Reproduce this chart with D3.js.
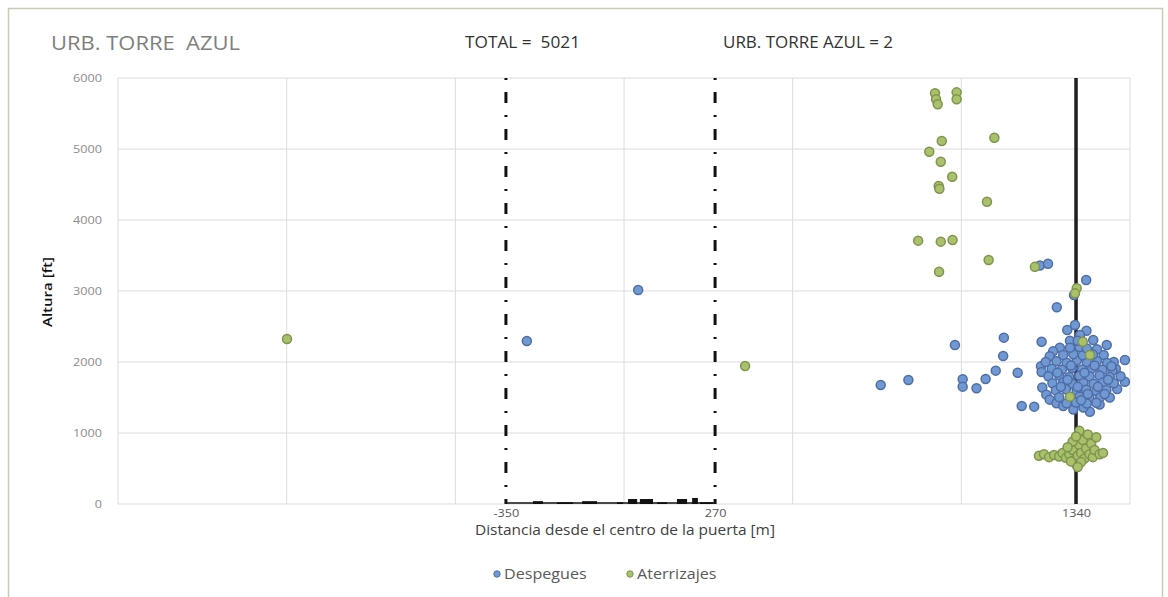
<!DOCTYPE html>
<html><head><meta charset="utf-8">
<script src="https://cdn.jsdelivr.net/npm/d3@7"></script>
<style>body{margin:0;background:#fff;} svg{display:block;font-family:'Open Sans',sans-serif;} text{white-space:pre;}</style>
</head><body><svg id="c" width="1168" height="597"></svg>
<script>
// ---- data ----
const despegues = [
  [-288,2296],[42,3014],[761,1676],[843,1746],[981,2239],[1004,1756],[1004,1653],[1045,1630],
  [1072,1761],[1102,1878],[1124,2085],[1126,2343],[1167,1849],[1179,1380],[1216,1371],
  [1233,3360],[1257,3385],[1283,2770],[1334,2944],[1370,3155],
  [1238,2286],[1314,2451],[1337,2521],[1371,2441],[1391,2310],[1431,2239],[1485,2028],[1485,1723],
  [1381,1300],[1236,1940],[1238,1860],[1240,1640],[1252,1540],[1262,1470],[1282,1420],[1302,1380],
  [1332,1330],[1362,1360],[1410,1400],[1440,1500],[1462,1620],[1472,1800],[1458,1905],[1452,2000],
  [1422,2100],[1402,2180],[1352,2380],[1322,2300],[1292,2200],[1272,2150],[1262,2080],[1250,2000],
  [1282,2010],[1312,1990],[1342,2020],[1372,1995],[1402,2015],[1432,1985],
  [1268,1905],[1298,1890],[1328,1915],[1358,1895],[1388,1910],[1418,1890],[1448,1880],
  [1258,1800],[1290,1810],[1320,1790],[1350,1805],[1380,1795],[1410,1810],[1440,1790],
  [1270,1700],[1302,1715],[1330,1690],[1362,1705],[1392,1695],[1420,1710],[1452,1700],
  [1280,1600],[1310,1615],[1342,1595],[1370,1610],[1400,1590],[1430,1605],
  [1290,1505],[1322,1495],[1350,1510],[1380,1490],[1412,1505],
  [1312,1420],[1340,1430],[1372,1415],[1400,1425],
  [1302,2100],[1332,2110],[1360,2095],[1390,2105],
  [1322,2200],[1350,2210],[1372,2190],[1345,2300],
  [1285,1850],[1315,1750],[1345,1650],[1375,1550],[1405,1650],[1435,1750],[1365,1850],[1395,1950],
  [1325,1950],[1295,1650],[1355,1460],[1425,1550],[1445,1940]
];
const aterrizajes = [
  [-999,2324],[359,1944],[922,5785],[925,5700],[930,5630],[986,5798],[986,5700],[942,5113],
  [1098,5159],[905,4962],[939,4821],[973,4610],[933,4479],[935,4440],[1076,4258],[872,3709],
  [939,3695],[974,3718],[1081,3437],[934,3272],[1218,3340],[1342,3038],[1337,2967],
  [1360,2286],[1381,2099],[1322,1511],
  [1230,680],[1245,700],[1260,660],[1275,690],[1290,670],[1300,720],[1310,650],[1320,700],
  [1330,760],[1335,620],[1340,560],[1345,680],[1350,830],[1355,720],[1360,900],[1365,640],
  [1370,780],[1375,980],[1380,700],[1385,850],[1390,660],[1395,760],[1400,940],[1410,700],
  [1420,720],[1330,880],[1315,800],[1350,1030],[1340,950],[1325,600],[1355,590],[1345,520]
];
const gateLines = [-350, 270];
const refLine = [1340];
const xTickValues = [-350, 270, 1340];
const yTickValues = [0, 1000, 2000, 3000, 4000, 5000, 6000];
const xGridValues = [-1500, -1000, -500, 0, 500, 1000, 1500];
const bldStart  = [-270, -199, -124, -21, 12, 47, 98, 157, 202, 225];
const bldEnd    = [-240, -151, -80, -3, 39, 86, 128, 187, 219, 264];
const bldHeight = [40, 25, 40, 25, 70, 70, 25, 70, 85, 25];
const seriesNames = ["Despegues", "Aterrizajes"];

// ---- drawing ----
const svg = d3.select("#c");
const L = 118, R = 1130, T = 78, B = 504;
const x = d3.scaleLinear().domain([-1500, 1500]).range([L, R]);
const y = d3.scaleLinear().domain([0, 6000]).range([B, T]);
const FONT = "'Open Sans',sans-serif";
function stretch(sel, f) {
  sel.each(function () {
    const w = this.getComputedTextLength();
    d3.select(this).attr("textLength", w * f).attr("lengthAdjust", "spacingAndGlyphs");
  });
}

svg.append("rect").attr("x", 8.5).attr("y", 8.5).attr("width", 1154).attr("height", 600)
  .attr("fill", "#fff").attr("stroke", "#c9ccb4").attr("stroke-width", 1.5);

// grid
svg.append("g").selectAll("line").data(yTickValues).join("line")
  .attr("x1", L).attr("x2", R).attr("y1", d => y(d)).attr("y2", d => y(d))
  .attr("stroke", "#dcdcdc").attr("stroke-width", 1);
svg.append("g").selectAll("line").data(xGridValues).join("line")
  .attr("x1", d => x(d)).attr("x2", d => x(d)).attr("y1", T).attr("y2", B)
  .attr("stroke", "#dcdcdc").attr("stroke-width", 1);

// y axis labels
const yAxis = d3.axisLeft(y).tickValues(yTickValues).tickSize(0).tickPadding(16).tickFormat(d => String(d));
const gy = svg.append("g").attr("transform", `translate(${L},0)`).call(yAxis);
gy.select(".domain").remove();
gy.selectAll("text").attr("fill", "#8c8c8c").style("font-size", "11px").style("font-family", FONT);
stretch(gy.selectAll("text"), 1.15);

// x axis labels
const xAxis = d3.axisBottom(x).tickValues(xTickValues).tickSize(0).tickPadding(5).tickFormat(d => String(d));
const gx = svg.append("g").attr("transform", `translate(0,${B})`).call(xAxis);
gx.select(".domain").remove();
gx.selectAll("text").attr("fill", "#595959").style("font-size", "11px").style("font-family", FONT);
stretch(gx.selectAll("text"), 1.15);

// buildings
const bld = bldStart.map((s, i) => ({s, e: bldEnd[i], h: bldHeight[i]}));
svg.append("g").selectAll("rect").data(bld).join("rect")
  .attr("x", d => x(d.s)).attr("width", d => x(d.e) - x(d.s))
  .attr("y", d => y(d.h)).attr("height", d => y(0) - y(d.h)).attr("fill", "#111");
svg.append("line").attr("x1", x(gateLines[0])).attr("x2", x(gateLines[1]))
  .attr("y1", y(15)).attr("y2", y(15)).attr("stroke", "#111").attr("stroke-width", 1.5);

// gate lines (dash-dot)
svg.append("g").selectAll("line").data(gateLines).join("line")
  .attr("x1", d => x(d)).attr("x2", d => x(d)).attr("y1", T).attr("y2", B)
  .attr("stroke", "#111").attr("stroke-width", 3)
  .attr("stroke-dasharray", "2,12,11,12");

// reference line
svg.append("g").selectAll("line").data(refLine).join("line")
  .attr("x1", d => x(d)).attr("x2", d => x(d)).attr("y1", T).attr("y2", B)
  .attr("stroke", "#1e1e1e").attr("stroke-width", 3.5);

// points
const styles = [{fill: "#7098d2", stroke: "#4f6ea6"}, {fill: "#a8c16a", stroke: "#7f944e"}];
[despegues, aterrizajes].forEach((ser, i) => {
  svg.append("g").selectAll("circle").data(ser).join("circle")
    .attr("cx", d => x(d[0])).attr("cy", d => y(d[1])).attr("r", 4.5)
    .attr("fill", styles[i].fill).attr("stroke", styles[i].stroke).attr("stroke-width", 1.5);
});

// titles
const t1 = svg.append("text").attr("x", 51).attr("y", 50).text("URB. TORRE  AZUL")
  .attr("fill", "#7f7f7f").style("font-size", "20px").style("font-family", FONT);
t1.attr("textLength", 189).attr("lengthAdjust", "spacingAndGlyphs");
svg.append("text").attr("x", 465).attr("y", 48).text("TOTAL =  5021")
  .attr("fill", "#333").style("font-size", "16px")
  .attr("textLength", 115).attr("lengthAdjust", "spacingAndGlyphs");
svg.append("text").attr("x", 723).attr("y", 48).text("URB. TORRE AZUL = 2")
  .attr("fill", "#333").style("font-size", "16px")
  .attr("textLength", 170).attr("lengthAdjust", "spacingAndGlyphs");

// axis titles
svg.append("text").attr("transform", "translate(52,292) rotate(-90)").attr("text-anchor", "middle")
  .text("Altura [ft]").attr("fill", "#111").style("font-size", "12px").style("font-weight", "600")
  .attr("textLength", 70).attr("lengthAdjust", "spacingAndGlyphs");
svg.append("text").attr("x", 625).attr("y", 535).attr("text-anchor", "middle")
  .text("Distancia desde el centro de la puerta [m]").attr("fill", "#404040").style("font-size", "14px")
  .attr("textLength", 300).attr("lengthAdjust", "spacingAndGlyphs");

// legend
const lg = svg.append("g");
const lx = [497, 630];
seriesNames.forEach((n, i) => {
  lg.append("circle").attr("cx", lx[i]).attr("cy", 574).attr("r", 3.2)
    .attr("fill", styles[i].fill).attr("stroke", styles[i].stroke).attr("stroke-width", 1);
  const t = lg.append("text").attr("x", lx[i] + 7).attr("y", 579).text(n)
    .attr("fill", "#595959").style("font-size", "14px");
  stretch(t, 1.15);
});
</script></body></html>
